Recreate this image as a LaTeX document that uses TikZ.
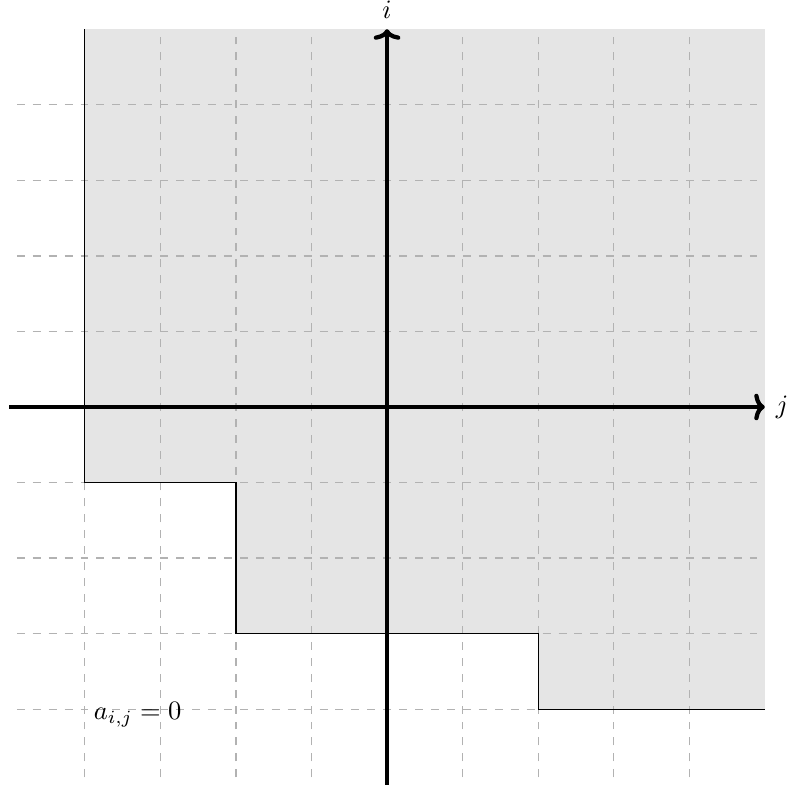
\documentclass[tikz,border=0pt]{standalone}
\usetikzlibrary{arrows.meta}
\begin{document}
\begin{tikzpicture}[
  gridline/.style={dashed, black!30, line width=0.5pt},
  region/.style={fill=black!10},
  boundary/.style={black, line width=0.5pt},
  axis/.style={line width=1.6pt, -{To[length=4pt,width=10pt]}}
]
\useasboundingbox (-5.122,-5.042) rectangle (5.281,5.386);
\fill[region] (-4,5) -- (5,5) -- (5,-4) -- (2,-4) -- (2,-3) -- (-2,-3) -- (-2,-1) -- (-4,-1) -- cycle;
\draw[gridline] (-4.9,-4.9) grid (4.9,4.9);
\draw[boundary] (-4,5) -- (-4,-1) -- (-2,-1) -- (-2,-3) -- (2,-3) -- (2,-4) -- (5,-4);
\coordinate (xl) at (-5,0);
\coordinate (xr) at (5,0);
\coordinate (yb) at (0,-5);
\coordinate (yt) at (0,5);
\draw[axis] (xl) -- (xr) node[right] (jl) {$j$};
\draw[axis] (yb) -- (yt) node[above] (il) {$i$};
\node (lab) at (-3.3,-4.07) {$a_{i,j} = 0$};
\end{tikzpicture}
\end{document}
